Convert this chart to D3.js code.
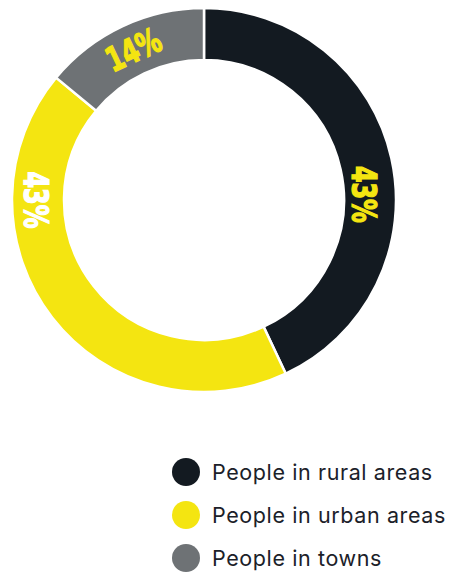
<!DOCTYPE html>
<html>
<head>
<meta charset="utf-8">
<script src="https://cdn.jsdelivr.net/npm/d3@7"></script>
<style>
  body { margin: 0; background: #fff; }
</style>
</head>
<body>
<div id="chart"></div>
<script>
// data
var categories = ["People in rural areas", "People in urban areas", "People in towns"];
var shares = [43, 43, 14];
var labels = ["43%", "43%", "14%"];
var colors = ["#131a21", "#f4e511", "#6e7275"];
var labelColors = ["#f4e511", "#ffffff", "#f4e511"];

// where each percent label sits (degrees clockwise from top, radius)
var labelPlace = [
    { angle: 88, r: 160, rot: 90 },
    { angle: 270, r: 168, rot: 90 },
    { angle: null, r: 166, rot: null }
];

var svgWidth = 450;
var svgHeight = 572;
var cx = 204, cy = 200;
var outerR = 192, innerR = 140;

var svg = d3.select("#chart")
    .append("svg")
    .attr("width", svgWidth)
    .attr("height", svgHeight);

var pieGroup = svg.append("g")
    .attr("transform", `translate(${cx}, ${cy})`);

var pie = d3.pie().sort(null).value(d => d);
var arcs = pie(shares);

var arc = d3.arc().innerRadius(innerR).outerRadius(outerR);

pieGroup.selectAll("path")
    .data(arcs)
    .enter()
    .append("path")
    .attr("d", arc)
    .attr("fill", (d, i) => colors[i])
    .attr("stroke", "#fff")
    .attr("stroke-width", 2.5);

// percent labels
pieGroup.selectAll("text.pct")
    .data(arcs)
    .enter()
    .append("text")
    .attr("class", "pct")
    .attr("transform", function(d, i) {
        var p = labelPlace[i];
        var deg = p.angle != null ? p.angle : (d.startAngle + d.endAngle) / 2 * 180 / Math.PI;
        var rad = deg * Math.PI / 180;
        var x = p.r * Math.sin(rad);
        var y = -p.r * Math.cos(rad);
        var rot = p.rot != null ? p.rot : (deg > 180 ? deg - 360 : deg);
        return `translate(${x}, ${y}) rotate(${rot})`;
    })
    .attr("text-anchor", "middle")
    .attr("dominant-baseline", "central")
    .attr("font-family", "'Liberation Sans Narrow', 'DejaVu Sans Condensed', sans-serif")
    .attr("font-weight", "bold")
    .attr("font-size", 34)
    .attr("textLength", 57)
    .attr("lengthAdjust", "spacingAndGlyphs")
    .attr("fill", (d, i) => labelColors[i])
    .attr("stroke", (d, i) => labelColors[i])
    .attr("stroke-width", 1.3)
    .text((d, i) => labels[i]);

// legend
var legendY = d3.scalePoint()
    .domain(categories)
    .range([472, 558]);

var legend = svg.append("g");

var rows = legend.selectAll("g")
    .data(categories)
    .enter()
    .append("g")
    .attr("transform", d => `translate(186, ${legendY(d)})`);

rows.append("circle")
    .attr("r", 14)
    .attr("fill", (d, i) => colors[i]);

rows.append("text")
    .attr("x", 26)
    .attr("dy", "0.35em")
    .attr("font-family", "Inter, 'Noto Sans', sans-serif")
    .attr("font-size", 21.5)
    .attr("letter-spacing", 0.6)
    .attr("fill", "#1b2129")
    .text(d => d);
</script>
</body>
</html>
